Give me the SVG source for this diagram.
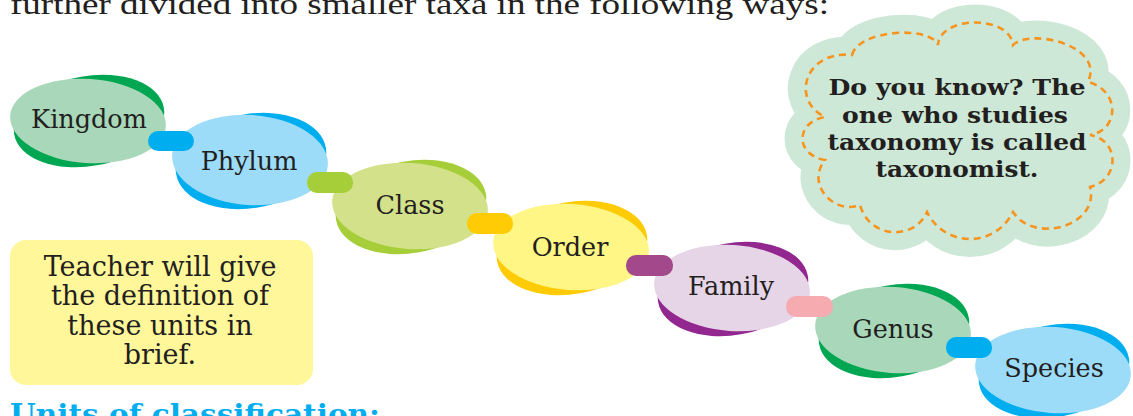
<svg xmlns="http://www.w3.org/2000/svg" width="1133" height="416" viewBox="0 0 1133 416">
<style>
.lbl{font-family:"DejaVu Serif","Liberation Serif",serif;font-size:25.5px;fill:#231f20;text-anchor:middle}
.note{font-family:"DejaVu Serif","Liberation Serif",serif;font-size:27px;fill:#231f20;text-anchor:middle}
.cloudtxt{font-family:"DejaVu Serif","Liberation Serif",serif;font-size:23px;font-weight:bold;fill:#231f20;text-anchor:middle}
.pill{stroke:none}
</style>
<defs>
<path id="cloudPath" d="M852,55 C858,30 930,25 938,45 C940,15 1010,15 1013,45 C1030,28 1105,45 1088,82 C1120,90 1120,130 1090,135 C1120,140 1120,180 1090,187 C1100,225 1035,245 1013,212 C995,248 945,248 927,212 C915,240 870,240 860,205 C835,215 805,185 825,160 C795,155 795,122 825,117 C790,100 805,50 852,55 Z"/>
</defs>
<rect width="1133" height="416" fill="#ffffff"/>

<text x="10" y="14" font-family="Liberation Serif, serif" font-size="30" fill="#231f20" textLength="819" lengthAdjust="spacingAndGlyphs">further divided into smaller taxa in the following ways:</text>

<g id="cloud">
<use href="#cloudPath" fill="#cde8d7" stroke="#cde8d7" stroke-width="36" stroke-linejoin="round"/>
<use href="#cloudPath" fill="none" stroke="#f7941d" stroke-width="2.6" stroke-dasharray="7 5"/>
<text class="cloudtxt" x="957" y="95" textLength="257" lengthAdjust="spacingAndGlyphs">Do you know? The</text>
<text class="cloudtxt" x="955" y="123" textLength="226" lengthAdjust="spacingAndGlyphs">one who studies</text>
<text class="cloudtxt" x="957" y="150" textLength="259" lengthAdjust="spacingAndGlyphs">taxonomy is called</text>
<text class="cloudtxt" x="957" y="177" textLength="163" lengthAdjust="spacingAndGlyphs">taxonomist.</text>
</g>

<g id="note">
<rect x="10" y="240" width="303" height="145" rx="16" fill="#fff79a"/>
<text class="note" x="160" y="276">Teacher will give</text>
<text class="note" x="160" y="305">the definition of</text>
<text class="note" x="160" y="335">these units in</text>
<text class="note" x="160" y="364">brief.</text>
</g>

<g id="kingdom">
<ellipse cx="89" cy="121" rx="76" ry="45" fill="#00a651" transform="rotate(-10 89 121)"/>
<ellipse cx="88" cy="121" rx="78" ry="42" fill="#a8d8b9" transform="rotate(4 88 121)"/>
<text class="lbl" x="89" y="128">Kingdom</text>
</g>
<g id="phylum">
<ellipse cx="251" cy="161" rx="76" ry="47" fill="#00aeef" transform="rotate(-10 251 161)"/>
<ellipse cx="250" cy="160" rx="78" ry="45" fill="#9ddcf9" transform="rotate(4 250 160)"/>
<text class="lbl" x="249" y="170">Phylum</text>
</g>
<g id="class">
<ellipse cx="411" cy="207" rx="76" ry="46" fill="#a6ce39" transform="rotate(-10 411 207)"/>
<ellipse cx="410" cy="206" rx="78" ry="43" fill="#d3e18a" transform="rotate(4 410 206)"/>
<text class="lbl" x="410" y="214">Class</text>
</g>
<g id="order">
<ellipse cx="572" cy="248" rx="76" ry="46" fill="#ffcb05" transform="rotate(-10 572 248)"/>
<ellipse cx="571" cy="247" rx="78" ry="43" fill="#fff685" transform="rotate(4 571 247)"/>
<text class="lbl" x="570" y="256">Order</text>
</g>
<g id="family">
<ellipse cx="733" cy="289" rx="76" ry="46" fill="#92278f" transform="rotate(-10 733 289)"/>
<ellipse cx="732" cy="288" rx="78" ry="43" fill="#e6d5e6" transform="rotate(4 732 288)"/>
<text class="lbl" x="731" y="295">Family</text>
</g>
<g id="genus">
<ellipse cx="894" cy="331" rx="76" ry="46" fill="#00a651" transform="rotate(-10 894 331)"/>
<ellipse cx="893" cy="330" rx="78" ry="43" fill="#a8d8b9" transform="rotate(4 893 330)"/>
<text class="lbl" x="893" y="338">Genus</text>
</g>
<g id="species">
<ellipse cx="1054" cy="371" rx="76" ry="46" fill="#00aeef" transform="rotate(-10 1054 371)"/>
<ellipse cx="1053" cy="370" rx="78" ry="43" fill="#9ddcf9" transform="rotate(4 1053 370)"/>
<text class="lbl" x="1054" y="377">Species</text>
</g>

<g id="connectors">
<rect class="pill" x="148" y="131" width="46" height="20" rx="10" fill="#00aeef"/>
<rect class="pill" x="307" y="172" width="46" height="21" rx="10" fill="#a6ce39"/>
<rect class="pill" x="467" y="213" width="46" height="21" rx="10" fill="#ffcb05"/>
<rect class="pill" x="626" y="255" width="47" height="21" rx="10" fill="#a3488b"/>
<rect class="pill" x="786" y="296" width="47" height="21" rx="10" fill="#f5abb0"/>
<rect class="pill" x="946" y="337" width="46" height="21" rx="10" fill="#00aeef"/>
</g>

<text x="10" y="424" font-family="DejaVu Serif, serif" font-size="28" font-weight="bold" fill="#00aeef" textLength="370" lengthAdjust="spacingAndGlyphs">Units of classification:</text>
</svg>
